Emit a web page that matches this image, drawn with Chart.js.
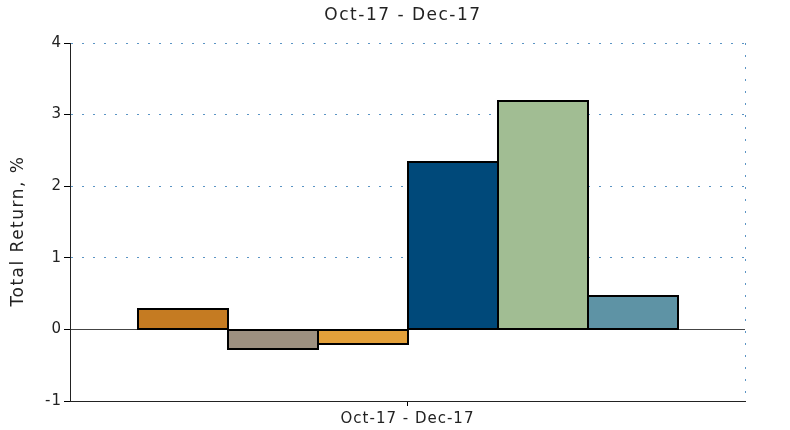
<!DOCTYPE html>
<html>
<head>
<meta charset="utf-8">
<script src="https://cdn.jsdelivr.net/npm/chart.js@4/dist/chart.umd.min.js"></script>
<style>
  body { margin: 0; background: #fff; }
  #wrap { width: 790px; height: 430px; }
</style>
</head>
<body>
<div id="wrap"><canvas id="returnChart" width="790" height="430"></canvas></div>
<script>
// data
const periods = ["Oct-17 - Dec-17"];
const seriesNames = ["Series 1", "Series 2", "Series 3", "Series 4", "Series 5", "Series 6"];
const seriesValues = [[0.28], [-0.27], [-0.20], [2.34], [3.19], [0.47]];
const seriesColors = ["#c57b22", "#9d9080", "#e3a03a", "#00497a", "#a1bd93", "#5e93a5"];
const yTicks = [-1, 0, 1, 2, 3, 4];
const chartTitle = "Oct-17 - Dec-17";
const yTitle = "Total Return, %";

const FONT = "'DejaVu Sans', Verdana, sans-serif";
const DOT = "#5a94c4";
const INK = "#222";

// the reference font is wider, so add a little tracking to all text
const tracking = {
  id: "tracking",
  beforeInit(chart) { chart.ctx.letterSpacing = "1px"; },
  beforeLayout(chart) { chart.ctx.letterSpacing = "1px"; },
  beforeDraw(chart) { chart.ctx.letterSpacing = "1px"; }
};

// dotted right edge, crisp bar outlines, title and y title
const frame = {
  id: "frame",
  beforeDatasetsDraw(chart) {
    const { ctx, chartArea } = chart;
    ctx.save();
    ctx.strokeStyle = DOT;
    ctx.lineWidth = 1;
    ctx.setLineDash([2, 10]);
    ctx.beginPath();
    ctx.moveTo(chartArea.right + 0.5, chartArea.top);
    ctx.lineTo(chartArea.right + 0.5, chartArea.bottom);
    ctx.stroke();
    ctx.restore();
  },
  afterDatasetsDraw(chart) {
    const { ctx } = chart;
    ctx.save();
    ctx.strokeStyle = "#000";
    ctx.lineWidth = 2;
    chart.data.datasets.forEach((ds, i) => {
      chart.getDatasetMeta(i).data.forEach(bar => {
        const { x, y, base, width } = bar.getProps(["x", "y", "base", "width"], true);
        const left = Math.round(x - width / 2);
        const right = Math.round(x + width / 2);
        const top = Math.round(Math.min(y, base));
        const bottom = Math.round(Math.max(y, base));
        ctx.strokeRect(left, top, right - left, bottom - top);
      });
    });
    ctx.restore();
  },
  afterDraw(chart) {
    const { ctx } = chart;
    ctx.save();
    ctx.fillStyle = INK;
    ctx.letterSpacing = "1.5px";
    ctx.font = "17px " + FONT;
    ctx.textAlign = "center";
    ctx.textBaseline = "middle";
    ctx.fillText(chartTitle, 403, 16);

    ctx.translate(19, 231);
    ctx.rotate(-Math.PI / 2);
    ctx.fillText(yTitle, 0, 0);
    ctx.restore();
  }
};

const ctx = document.getElementById("returnChart").getContext("2d");
new Chart(ctx, {
  type: "bar",
  data: {
    labels: periods,
    datasets: seriesNames.map((name, i) => ({
      label: name,
      data: seriesValues[i],
      backgroundColor: seriesColors[i],
      borderWidth: 0,
      categoryPercentage: 0.8,
      barPercentage: 1.0
    }))
  },
  options: {
    responsive: false,
    animation: false,
    layout: { padding: { right: 45, left: 0, bottom: 0, top: 43 } },
    plugins: {
      legend: { display: false },
      tooltip: { enabled: false },
      title: { display: false }
    },
    scales: {
      x: {
        offset: true,
        grid: {
          offset: false,
          drawOnChartArea: false,
          drawTicks: true,
          tickLength: 5,
          tickColor: "#000"
        },
        border: { display: true, color: INK, width: 1 },
        ticks: {
          color: INK,
          padding: 4,
          font: { family: FONT, size: 15 }
        },
        afterFit(scale) { scale.height = 29; }
      },
      y: {
        min: -1,
        max: 4,
        afterBuildTicks(scale) { scale.ticks = yTicks.map(v => ({ value: v })); },
        grid: {
          color: c => (c.tick && c.tick.value === 0 ? "#444" : DOT),
          lineWidth: 1,
          tickLength: 6,
          tickColor: "#000"
        },
        border: {
          display: true,
          color: INK,
          width: 1,
          dash: c => (c.tick && c.tick.value === 0 ? [] : [2, 9])
        },
        ticks: {
          color: INK,
          padding: 2,
          font: { family: FONT, size: 15 }
        },
        afterFit(scale) { scale.width = 70; }
      }
    }
  },
  plugins: [tracking, frame]
});
</script>
</body>
</html>
